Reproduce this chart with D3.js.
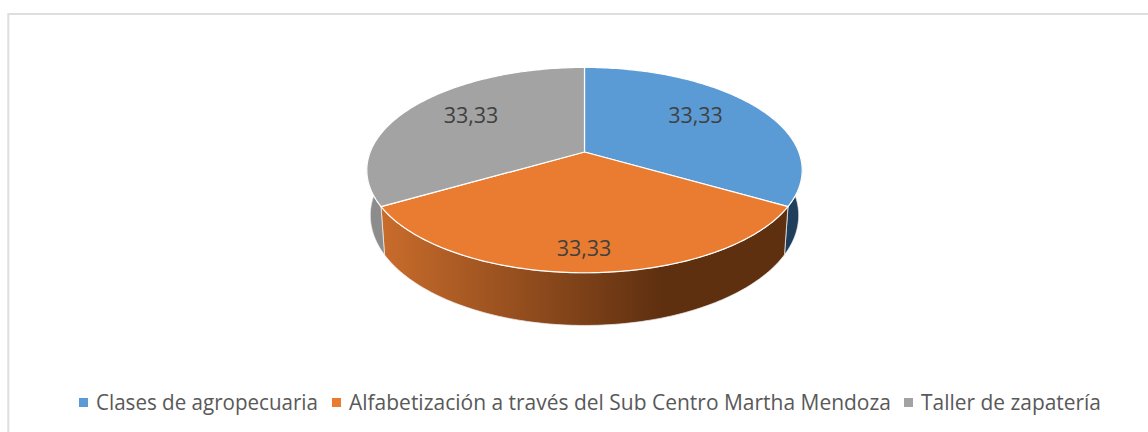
<!DOCTYPE html>
<html><head><meta charset="utf-8">
<script src="https://cdnjs.cloudflare.com/ajax/libs/d3/7.8.5/d3.min.js"></script>
<style>html,body{margin:0;padding:0;background:#fff;overflow:hidden}svg{display:block}</style>
</head><body><svg id="c" width="1148" height="432"></svg>
<script>
const categories = ["Clases de agropecuaria","Alfabetización a través del Sub Centro Martha Mendoza","Taller de zapatería"];
const values = [33.33,33.33,33.33];
const labels = ["33,33","33,33","33,33"];
const topColors = ["#5b9bd5","#ea7c31","#a3a3a3"];
const sideColors = [["#1f3e5c","#24465f"],["#c96c2c","#5f3010"],["#8c8c8c","#7a7a7a"]];
const legendX = [79,332,904];
const legendW = [222,542,180];

const svg = d3.select("#c");
// frame: left and top edges only, the right side is cropped away
svg.append("path").attr("d","M8.3,432V13.9H1148").attr("fill","none").attr("stroke","#dedede").attr("stroke-width",2);

// perspective projection of the disc: top face h=0, bottom face h=1
const X0=584.5,Y0=152;
const proj=(u,v,h)=>{
  const d=1-0.176*v+0.016*h;
  return [X0+214.3*u/d, Y0+((99.5+1.2*h)*v+45*h)/d];
};
const arcs=d3.pie().sort(null).value(d=>d)(values);
const pt=(a,h,r=1)=>proj(r*Math.sin(a),-r*Math.cos(a),h);
const samples=(a0,a1,n=120)=>d3.range(n+1).map(i=>a0+(a1-a0)*i/n);
const line=d3.line();
const defs=svg.append("defs");
const grad=defs.append("linearGradient").attr("id","front").attr("gradientUnits","userSpaceOnUse")
  .attr("x1",381).attr("x2",660).attr("y1",0).attr("y2",0);
grad.append("stop").attr("offset",0).attr("stop-color",sideColors[1][0]);
grad.append("stop").attr("offset",1).attr("stop-color",sideColors[1][1]);

// side walls (visible part of the rim only)
arcs.forEach((d,i)=>{
  const a0=Math.max(d.startAngle,Math.PI*0.45), a1=Math.min(d.endAngle,Math.PI*1.55);
  if(a1<=a0) return;
  const ang=samples(a0,a1);
  const pts=ang.map(a=>pt(a,0)).concat(ang.slice().reverse().map(a=>pt(a,1)));
  svg.append("path").attr("d",line(pts)+"Z")
    .attr("fill",i===1?"url(#front)":sideColors[i][0])
    .attr("stroke","#eeeeee").attr("stroke-width",0.75);
});
// top slices
arcs.forEach((d,i)=>{
  const pts=[proj(0,0,0)].concat(samples(d.startAngle,d.endAngle).map(a=>pt(a,0)));
  svg.append("path").attr("d",line(pts)+"Z").attr("fill",topColors[i])
    .attr("stroke","#fff").attr("stroke-width",1.2).attr("stroke-linejoin","round");
});
// data labels
const labelPos=[[695.5,115.5],[584,248.5],[471,115.5]];
labels.forEach((t,i)=>{
  svg.append("text").attr("x",labelPos[i][0]).attr("y",labelPos[i][1]).attr("dy","0.35em")
    .attr("text-anchor","middle").attr("font-family","'Open Sans'").attr("font-size",21.5)
    .attr("fill","#404040").text(t);
});
// legend
categories.forEach((t,i)=>{
  svg.append("rect").attr("x",legendX[i]).attr("y",398).attr("width",9).attr("height",9).attr("fill",topColors[i]);
  svg.append("text").attr("x",legendX[i]+17).attr("y",403).attr("dy","0.35em")
    .attr("font-family","'Open Sans'").attr("font-size",20.9).attr("fill","#595959")
    .attr("textLength",legendW[i]).attr("lengthAdjust","spacingAndGlyphs").text(t);
});
</script></body></html>
